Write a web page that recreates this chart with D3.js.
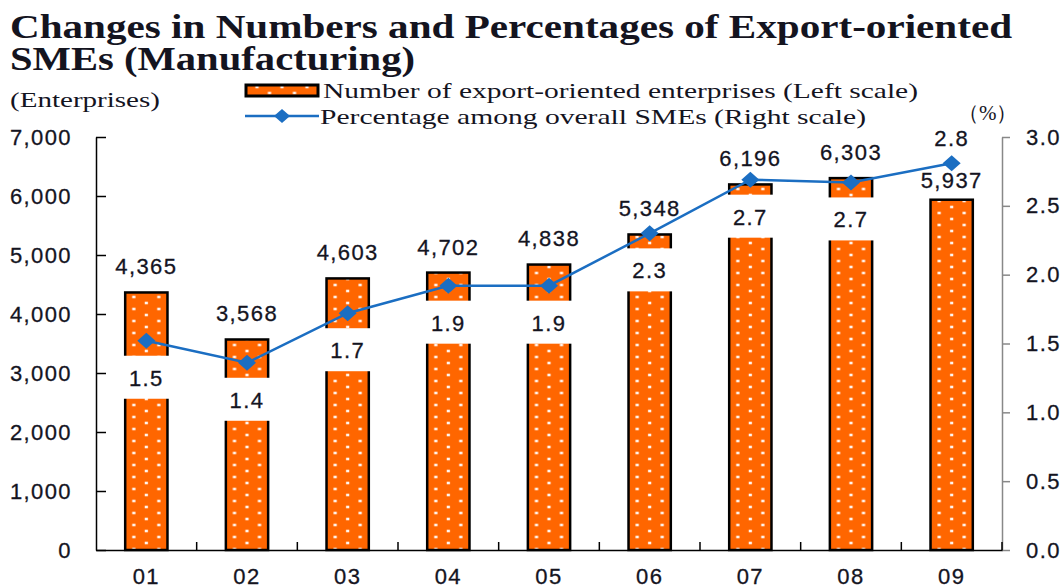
<!DOCTYPE html>
<html lang="en">
<head>
<meta charset="UTF-8">
<title>Export-oriented SMEs</title>
<style>
  body { margin: 0; background: #fff; }
  svg text { fill: #14141f; }
  .num { font-family: "Liberation Sans", Arial, sans-serif; font-size: 22px; letter-spacing: 1.4px; stroke: #14141f; stroke-width: 0.3px; }
  .serif { font-family: "Liberation Serif", "Times New Roman", serif; }
</style>
</head>
<body>
<svg id="chart" width="1064" height="588"></svg>
<script src="https://cdnjs.cloudflare.com/ajax/libs/d3/7.8.5/d3.min.js"></script>
<script>
// data
var years = ["01", "02", "03", "04", "05", "06", "07", "08", "09"];
var enterprises = [4365, 3568, 4603, 4702, 4838, 5348, 6196, 6303, 5937];
var percentages = [1.52, 1.36, 1.72, 1.92, 1.92, 2.30, 2.69, 2.67, 2.81];
var leftTicks = [0, 1000, 2000, 3000, 4000, 5000, 6000, 7000];
var rightTicks = [0, 0.5, 1.0, 1.5, 2.0, 2.5, 3.0];

var svg = d3.select("#chart");
var orange = "#ff6600", blue = "#1b6ec2";

var x = d3.scaleBand().domain(years).range([96, 1002]);
var yL = d3.scaleLinear().domain([0, 7000]).range([550, 137]);
var yR = d3.scaleLinear().domain([0, 3]).range([550, 137]);
var barW = x.bandwidth() * 0.42;

// title
var title = ["Changes in Numbers and Percentages of Export-oriented", "SMEs (Manufacturing)"];
var titleW = [1002, 405];
svg.selectAll(".title").data(title).enter().append("text")
    .attr("class", "serif")
    .attr("x", 10)
    .attr("y", function(d, i) { return 38 + i * 32; })
    .attr("textLength", function(d, i) { return titleW[i]; })
    .attr("lengthAdjust", "spacingAndGlyphs")
    .style("font-size", "33px")
    .style("font-weight", "bold")
    .text(function(d) { return d; });

svg.append("text").attr("class", "serif")
    .attr("x", 10).attr("y", 107)
    .attr("textLength", 150).attr("lengthAdjust", "spacingAndGlyphs")
    .style("font-size", "21px")
    .text("(Enterprises)");

svg.append("text").attr("class", "serif")
    .attr("x", 958).attr("y", 120)
    .style("font-size", "21px")
    .text("（%）");

// patterns: one per bar so the dots line up with each bar
var defs = svg.append("defs");
function addPattern(id, cx) {
  var p = defs.append("pattern")
      .attr("id", id)
      .attr("patternUnits", "userSpaceOnUse")
      .attr("x", cx - 12.5).attr("y", 0)
      .attr("width", 25).attr("height", 12);
  p.append("rect").attr("width", 25).attr("height", 12).attr("fill", orange);
  [[12.5, 3], [0, 9], [25, 9]].forEach(function(d) {
    p.append("rect").attr("x", d[0] - 1.6).attr("y", d[1] - 1.3)
        .attr("width", 3.2).attr("height", 2.6).attr("fill", "#fff4ee");
  });
}
years.forEach(function(d, i) { addPattern("pat" + i, x(d) + x.bandwidth() / 2); });
addPattern("patLeg", 282);

// legend
svg.append("rect")
    .attr("x", 246).attr("y", 85).attr("width", 72).attr("height", 11)
    .attr("fill", "url(#patLeg)").attr("stroke", "#000").attr("stroke-width", 3);
svg.append("text").attr("class", "serif")
    .attr("x", 323).attr("y", 98)
    .attr("textLength", 595).attr("lengthAdjust", "spacingAndGlyphs")
    .style("font-size", "21px")
    .text("Number of export-oriented enterprises (Left scale)");
svg.append("line")
    .attr("x1", 245).attr("x2", 319).attr("y1", 116).attr("y2", 116)
    .attr("stroke", blue).attr("stroke-width", 2.5);
svg.append("path")
    .attr("d", "M0,-7L8,0L0,7L-8,0Z")
    .attr("transform", "translate(282,116)")
    .attr("fill", blue);
svg.append("text").attr("class", "serif")
    .attr("x", 320).attr("y", 124)
    .attr("textLength", 546).attr("lengthAdjust", "spacingAndGlyphs")
    .style("font-size", "21px")
    .text("Percentage among overall SMEs (Right scale)");

// bars
svg.selectAll(".bar").data(enterprises).enter().append("rect")
    .attr("class", "bar")
    .attr("x", function(d, i) { return x(years[i]) + (x.bandwidth() - barW) / 2; })
    .attr("y", function(d) { return yL(d); })
    .attr("width", barW)
    .attr("height", function(d) { return yL(0) - yL(d); })
    .attr("fill", function(d, i) { return "url(#pat" + i + ")"; })
    .attr("stroke", "#000")
    .attr("stroke-width", 2.5);

// white boxes under the percentage labels
var last = years.length - 1;
svg.selectAll(".pbox").data(percentages.slice(0, last)).enter().append("rect")
    .attr("x", function(d, i) { return x(years[i]) + x.bandwidth() / 2 - 26; })
    .attr("y", function(d) { return yR(d) + 15; })
    .attr("width", 52)
    .attr("height", 43)
    .attr("fill", "#fff");

// axes
var gL = svg.append("g").attr("transform", "translate(96,0)")
    .call(d3.axisLeft(yL).tickValues(leftTicks).tickFormat(d3.format(",")).tickSize(-10).tickSizeOuter(0).tickPadding(24));
gL.selectAll("path, line").attr("stroke", "#000").attr("stroke-width", 1.5);
gL.selectAll("text").attr("class", "num").attr("fill", "#14141f");

var gR = svg.append("g").attr("transform", "translate(1002,0)")
    .call(d3.axisRight(yR).tickValues(rightTicks).tickFormat(d3.format(".1f")).tickSize(8).tickSizeOuter(0).tickPadding(16));
gR.selectAll("path, line").attr("stroke", "#888").attr("stroke-width", 1.5);
gR.selectAll("text").attr("class", "num").attr("fill", "#14141f");

var gB = svg.append("g").attr("transform", "translate(0,550)")
    .call(d3.axisBottom(x).tickSize(0).tickPadding(18).tickSizeOuter(0));
gB.select(".domain").attr("stroke", "#000").attr("stroke-width", 1.5);
gB.selectAll("text").attr("class", "num").attr("fill", "#14141f");
var bounds = years.map(function(d) { return x(d); }).concat([x.range()[1]]);
gB.selectAll(".sep").data(bounds.slice(1)).enter().append("line")
    .attr("x1", function(d) { return d; }).attr("x2", function(d) { return d; })
    .attr("y1", 0).attr("y2", -8)
    .attr("stroke", "#000").attr("stroke-width", 1.5);

// bar value labels
svg.selectAll(".blab").data(enterprises).enter().append("text")
    .attr("class", "num")
    .attr("x", function(d, i) { return x(years[i]) + x.bandwidth() / 2; })
    .attr("y", function(d, i) { return yL(d) - (i === last ? 20 : 26); })
    .attr("dy", "0.36em")
    .attr("text-anchor", "middle")
    .text(function(d) { return d3.format(",")(d); });

// percentage line
var line = d3.line()
    .x(function(d, i) { return x(years[i]) + x.bandwidth() / 2; })
    .y(function(d) { return yR(d); });
svg.append("path").datum(percentages)
    .attr("d", line)
    .attr("fill", "none")
    .attr("stroke", blue)
    .attr("stroke-width", 2.5);
svg.selectAll(".mk").data(percentages).enter().append("path")
    .attr("d", "M0,-8L9,0L0,8L-9,0Z")
    .attr("transform", function(d, i) { return "translate(" + (x(years[i]) + x.bandwidth() / 2) + "," + yR(d) + ")"; })
    .attr("fill", blue);

svg.selectAll(".plab").data(percentages).enter().append("text")
    .attr("class", "num")
    .attr("x", function(d, i) { return x(years[i]) + x.bandwidth() / 2; })
    .attr("y", function(d, i) { return i === last ? yR(d) - 25 : yR(d) + 37; })
    .attr("dy", "0.36em")
    .attr("text-anchor", "middle")
    .text(function(d) { return d3.format(".1f")(d); });
</script>
</body>
</html>
